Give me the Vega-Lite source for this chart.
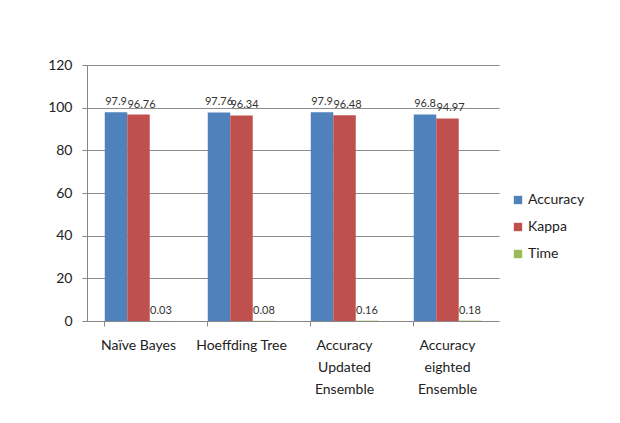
{
  "$schema": "https://vega.github.io/schema/vega-lite/v6.json",
  "width": 412,
  "height": 256,
  "autosize": {"type": "none"},
  "padding": {"left": 87, "top": 65, "right": 121, "bottom": 102},
  "background": "white",
  "config": {
    "font": "Lato",
    "view": {"stroke": null},
    "axis": {"labelFont": "Lato", "labelColor": "#222222", "labelFontSize": 14}
  },
  "data": {
    "values": [
      {"algo": "Naïve Bayes", "metric": "Accuracy", "value": 97.9},
      {"algo": "Naïve Bayes", "metric": "Kappa", "value": 96.76},
      {"algo": "Naïve Bayes", "metric": "Time", "value": 0.03},
      {"algo": "Hoeffding Tree", "metric": "Accuracy", "value": 97.76},
      {"algo": "Hoeffding Tree", "metric": "Kappa", "value": 96.34},
      {"algo": "Hoeffding Tree", "metric": "Time", "value": 0.08},
      {"algo": "Accuracy|Updated|Ensemble", "metric": "Accuracy", "value": 97.9},
      {"algo": "Accuracy|Updated|Ensemble", "metric": "Kappa", "value": 96.48},
      {"algo": "Accuracy|Updated|Ensemble", "metric": "Time", "value": 0.16},
      {"algo": "Accuracy|eighted|Ensemble", "metric": "Accuracy", "value": 96.8},
      {"algo": "Accuracy|eighted|Ensemble", "metric": "Kappa", "value": 94.97},
      {"algo": "Accuracy|eighted|Ensemble", "metric": "Time", "value": 0.18}
    ]
  },
  "encoding": {
    "x": {
      "field": "algo",
      "type": "nominal",
      "sort": null,
      "title": null,
      "scale": {"paddingInner": 0.345, "paddingOuter": 0.1725},
      "axis": {
        "labelAngle": 0,
        "labelExpr": "split(datum.label, '|')",
        "labelLineHeight": 22,
        "labelPadding": 12,
        "labelBaseline": "top",
        "domainColor": "#868686",
        "ticks": true,
        "bandPosition": 0,
        "tickColor": "#868686",
        "tickSize": 5
      }
    },
    "xOffset": {"field": "metric", "type": "nominal", "sort": ["Accuracy", "Kappa", "Time"]},
    "y": {
      "field": "value",
      "type": "quantitative",
      "title": null,
      "scale": {"domain": [0, 120], "nice": false},
      "axis": {
        "values": [0, 20, 40, 60, 80, 100, 120],
        "gridColor": "#8c8c8c",
        "gridWidth": 1,
        "domainColor": "#868686",
        "tickColor": "#868686",
        "tickSize": 5,
        "labelPadding": 10
      }
    }
  },
  "layer": [
    {
      "mark": {"type": "bar"},
      "encoding": {
        "color": {
          "field": "metric",
          "type": "nominal",
          "sort": ["Accuracy", "Kappa", "Time"],
          "scale": {"domain": ["Accuracy", "Kappa", "Time"], "range": ["#4F81BD", "#C0504D", "#9BBB59"]},
          "legend": {
            "title": null,
            "orient": "none",
            "legendX": 424,
            "legendY": 128,
            "symbolType": "square",
            "symbolSize": 70,
            "symbolStrokeWidth": 0,
            "labelFontSize": 14,
            "labelColor": "#222222",
            "labelFont": "Lato",
            "rowPadding": 13,
            "labelOffset": 3
          }
        }
      }
    },
    {
      "transform": [{"filter": "datum.metric != 'Kappa'"}],
      "mark": {"type": "text", "baseline": "bottom", "dy": -5, "fontSize": 11, "color": "#333333", "font": "Lato"},
      "encoding": {
        "text": {"field": "value", "type": "quantitative"}
      }
    },
    {
      "transform": [{"filter": "datum.metric == 'Kappa'"}],
      "mark": {"type": "text", "baseline": "bottom", "dy": -5, "dx": 3, "fontSize": 11, "color": "#333333", "font": "Lato"},
      "encoding": {
        "text": {"field": "value", "type": "quantitative"}
      }
    }
  ]
}
